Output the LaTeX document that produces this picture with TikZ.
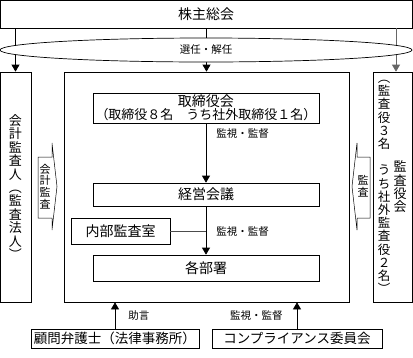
\documentclass[tikz,border=0pt]{standalone}
\usepackage{fontspec}
\newfontfamily\jp{Noto Sans CJK JP}
\usetikzlibrary{positioning, arrows.meta, shapes.geometric}

\begin{document}
\begin{tikzpicture}[x=1pt, y=-1pt,
  every node/.style={font=\jp},
  kasten/.style={
    rectangle, draw, line width=0.7pt,
    inner sep=0pt, align=center,
    font=\jp\fontsize{14pt}{14pt}\selectfont
  },
  tate/.style={align=center, inner sep=0pt,
    font=\jp\fontsize{13pt}{13.4pt}\selectfont},
  tatekl/.style={align=center, inner sep=0pt,
    font=\jp\fontsize{11pt}{11.8pt}\selectfont},
  etiq/.style={font=\jp\fontsize{10.5pt}{11pt}\selectfont, inner sep=1pt},
  pfeil/.style={line width=0.7pt, -{Triangle[width=8pt,length=7pt]}}
]
  \useasboundingbox (0,0) rectangle (413,357);

  % --- Kopf ---
  \node[kasten, minimum width=412pt, minimum height=28pt] (sokai) at (206,14) {株主総会};

  % --- Drei Spalten ---
  \node[kasten, tate, draw, line width=0.7pt, minimum width=31pt, minimum height=230pt]
    (kaikei) at (15.5,187) {会\\計\\監\\査\\人\\︵\\監\\査\\法\\人\\︶};
  \node[kasten, minimum width=285pt, minimum height=230pt] (haupt) at (206.5,187) {};
  \node[kasten, minimum width=39pt, minimum height=230pt] (kansa) at (392.5,187) {};
  \node[tate] (kansaRechts) at ([xshift=7.5pt]kansa.center) {監\\査\\役\\会};
  \node[tate, font=\jp\fontsize{12.5pt}{13.2pt}\selectfont]
    (kansaLinks) at ([xshift=-8.5pt]kansa.center)
    {︵\\監\\査\\役\\３\\名\\\mbox{}\\う\\ち\\社\\外\\監\\査\\役\\２\\名\\︶};

  % --- Innere Gremien ---
  \node[kasten, minimum width=226pt, minimum height=30pt] (torishimari) at (206,108)
    {取締役会\\[-1pt]{\fontsize{13pt}{13pt}\selectfont （取締役８名　うち社外取締役１名）}};
  \node[kasten, minimum width=226pt, minimum height=23pt] (keiei) at (206,194.5) {経営会議};
  \node[kasten, minimum width=99pt, minimum height=26pt] (naibu) at (120.5,231) {内部監査室};
  \node[kasten, minimum width=226pt, minimum height=26pt] (kakubu) at (206,268) {各部署};

  % --- Unten ---
  \node[kasten, minimum width=168pt, minimum height=19pt,
        font=\jp\fontsize{13.5pt}{13.5pt}\selectfont] (komon) at (115,338.5) {顧問弁護士（法律事務所）};
  \node[kasten, minimum width=170pt, minimum height=19pt,
        font=\jp\fontsize{13.5pt}{13.5pt}\selectfont] (compl) at (297,338.5) {コンプライアンス委員会};

  % --- Pfeile vom Kopf ---
  \draw[pfeil] (sokai.south -| kaikei.north) -- (kaikei.north);
  \draw[pfeil] (sokai.south -| haupt.north) -- (haupt.north);
  \draw[pfeil, black!60] (sokai.south -| {396,0}) -- ({396,0} |- kansa.north);
  \node[ellipse, draw, line width=0.7pt, fill=white, inner sep=0pt,
        minimum width=412pt, minimum height=24pt, etiq] (wahl) at (206,50) {選任・解任};

  % --- Innere Pfeile ---
  \draw[pfeil] (torishimari.south) -- node[etiq, right=9pt, pos=0.17]{監視・監督} (keiei.north);
  \draw[pfeil] (keiei.south) -- node[etiq, right=9pt, pos=0.53]{監視・監督} (kakubu.north);
  \draw[line width=0.7pt, black!70] (naibu.east) -- (naibu.east -| keiei.south);

  % --- Pruefpfeile ---
  \draw[line width=0.5pt] (38,157) -- (52,157) -- (52,143) -- (57,186.5)
    -- (52,230) -- (52,218) -- (38,218) -- cycle;
  \node[tatekl] (pruefL) at (45,186.5) {会\\計\\監\\査};
  \draw[line width=0.5pt] (370,157) -- (357,157) -- (357,143) -- (352,186.5)
    -- (357,230) -- (357,218) -- (370,218) -- cycle;
  \node[tatekl] (pruefR) at (363,186.5) {監\\査};

  % --- Pfeile von unten ---
  \draw[pfeil] (komon.north) -- node[etiq, right=12pt]{助言} (komon.north |- haupt.south);
  \draw[pfeil] (compl.north) -- node[etiq, left=13pt]{監視・監督} (compl.north |- haupt.south);
\end{tikzpicture}
\end{document}
